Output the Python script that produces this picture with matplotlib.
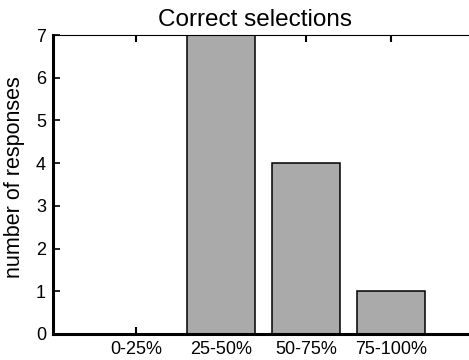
import matplotlib
matplotlib.use("Agg")
import matplotlib.pyplot as plt

categories = ["0-25%", "25-50%", "50-75%", "75-100%"]
responses = [0, 7, 4, 1]
yticks = [0, 1, 2, 3, 4, 5, 6, 7]
title = "Correct selections"
ylabel = "number of responses"

plt.rcParams['font.family'] = ['Liberation Sans', 'DejaVu Sans']

W, H = 469, 360
fig = plt.figure(figsize=(W / 100, H / 100), dpi=100)
left_px, right_px, top_px, bottom_px = 53, 476, 35, 334
ax = fig.add_axes([left_px / W, 1 - bottom_px / H,
                   (right_px - left_px) / W, (bottom_px - top_px) / H])

pos = list(range(1, len(categories) + 1))
ax.bar(pos, responses, width=0.8, color="#aaaaaa", edgecolor="black",
       linewidth=1.1, zorder=2)

ax.set_xlim(0.02, 5.0)
ax.set_ylim(0, 7)
ax.set_xticks(pos)
ax.set_xticklabels(categories)
ax.set_yticks(yticks)
ax.set_axisbelow(True)

ax.tick_params(axis='x', direction='in', length=5, width=1.5, top=True,
               bottom=True, pad=5, labelsize=13)
ax.tick_params(axis='y', direction='in', length=5, width=1.2, left=True,
               right=False, pad=5, labelsize=13)

ax.spines['right'].set_visible(False)
ax.spines['top'].set_linewidth(0.8)
ax.spines['left'].set_linewidth(2.2)
ax.spines['bottom'].set_linewidth(2.2)

fig.text(255 / W, 1 - 20 / H, title, ha='center', va='center', fontsize=17.5)
fig.text(15 / W, 1 - 177 / H, ylabel, ha='center', va='center',
         rotation=90, fontsize=15.5)

fig.savefig("out.png", dpi=100)
